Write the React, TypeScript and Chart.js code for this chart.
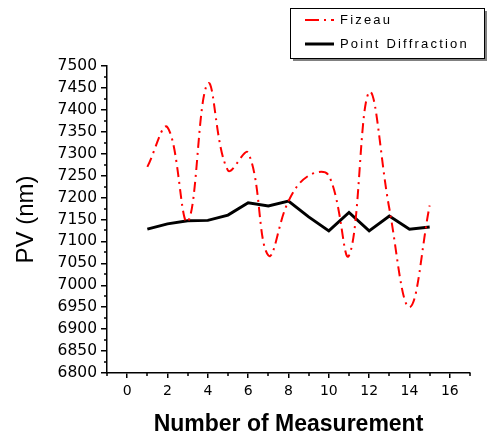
import React, { useEffect, useRef } from 'react';
import { Chart, registerables } from 'chart.js';

Chart.register(...registerables);

const measurements = [1, 2, 3, 4, 5, 6, 7, 8, 9, 10, 11, 12, 13, 14, 15];
const fizeau = [7270, 7360, 7145, 7460, 7262, 7302, 7068, 7192, 7250, 7250, 7068, 7440, 7175, 6950, 7182];
const pointDiffraction = [7128, 7140, 7147, 7148, 7160, 7188, 7181, 7192, 7156, 7124, 7166, 7124, 7158, 7128, 7133];
const xTickLabels = [0, 2, 4, 6, 8, 10, 12, 14, 16];
const yTickLabels = [6800, 6850, 6900, 6950, 7000, 7050, 7100, 7150, 7200, 7250, 7300, 7350, 7400, 7450, 7500];
const seriesNames = ['Fizeau', 'Point Diffraction'];
const xTitle = 'Number of Measurement';
const yTitle = 'PV (nm)';

const FONT = '"Liberation Sans", Arial, sans-serif';
const TICK_FONT = '"DejaVu Sans", sans-serif';

const minorTickPlugin = {
  id: 'minorTicks',
  afterDraw(chart: any) {
    const ctx = chart.ctx as CanvasRenderingContext2D;
    const xs = chart.scales.x;
    const ys = chart.scales.y;
    const area = chart.chartArea;
    ctx.save();
    ctx.strokeStyle = '#000';
    ctx.lineWidth = 1.5;
    ctx.beginPath();
    xs.ticks.forEach((t: any) => {
      if (!xTickLabels.includes(t.value)) {
        const px = Math.round(xs.getPixelForValue(t.value));
        ctx.moveTo(px, area.bottom);
        ctx.lineTo(px, area.bottom + 3);
      }
    });
    ys.ticks.forEach((t: any) => {
      if (!yTickLabels.includes(t.value)) {
        const py = Math.round(ys.getPixelForValue(t.value));
        ctx.moveTo(area.left, py);
        ctx.lineTo(area.left - 3, py);
      }
    });
    ctx.stroke();
    ctx.restore();
  },
};

const legendPlugin = {
  id: 'boxLegend',
  afterDraw(chart: any) {
    const ctx = chart.ctx as CanvasRenderingContext2D;
    ctx.save();
    const x0 = 290, y0 = 8, w = 194, h = 50;
    ctx.fillStyle = '#808080';
    ctx.fillRect(x0 + 3, y0 + 3, w, h);
    ctx.fillStyle = '#ffffff';
    ctx.fillRect(x0, y0, w, h);
    ctx.strokeStyle = '#000';
    ctx.lineWidth = 1;
    ctx.strokeRect(x0 + 0.5, y0 + 0.5, w, h);

    const rows = [
      { y: 20, color: '#ff0000', width: 2, dash: [14, 5, 2, 5] },
      { y: 44, color: '#000000', width: 3, dash: [] as number[] },
    ];
    rows.forEach((r, i) => {
      ctx.beginPath();
      ctx.setLineDash(r.dash);
      ctx.strokeStyle = r.color;
      ctx.lineWidth = r.width;
      ctx.moveTo(305, r.y);
      ctx.lineTo(334, r.y);
      ctx.stroke();
      ctx.setLineDash([]);
      ctx.fillStyle = '#000';
      ctx.font = `13px ${FONT}`;
      (ctx as any).letterSpacing = '2.2px';
      ctx.textBaseline = 'middle';
      ctx.textAlign = 'left';
      ctx.fillText(seriesNames[i], 340, r.y);
    });
    ctx.restore();
  },
};

export default function App() {
  const ref = useRef<HTMLCanvasElement>(null);
  useEffect(() => {
    if (!ref.current) return;
    const chart = new Chart(ref.current, {
      type: 'line',
      data: {
        datasets: [
          {
            label: seriesNames[0],
            data: measurements.map((x, i) => ({ x, y: fizeau[i] })),
            borderColor: '#ff0000',
            borderWidth: 2,
            borderDash: [10, 5, 2, 5],
            tension: 0.4,
            pointRadius: 0,
            fill: false,
          },
          {
            label: seriesNames[1],
            data: measurements.map((x, i) => ({ x, y: pointDiffraction[i] })),
            borderColor: '#000000',
            borderWidth: 3,
            tension: 0,
            pointRadius: 0,
            fill: false,
          },
        ],
      },
      options: {
        animation: false,
        responsive: true,
        maintainAspectRatio: false,
        layout: { padding: { top: 66, right: 19, left: 0, bottom: 0 } },
        plugins: { legend: { display: false }, tooltip: { enabled: false } },
        scales: {
          x: {
            type: 'linear',
            min: -1,
            max: 17,
            afterFit: (s: any) => { s.height = 64; },
            ticks: {
              stepSize: 1,
              autoSkip: false,
              maxRotation: 0,
              color: '#000',
              padding: 5,
              font: { family: TICK_FONT, size: 14 },
              callback: (v: any) => (xTickLabels.includes(v) ? String(v) : ''),
            },
            grid: {
              drawOnChartArea: false,
              drawTicks: true,
              tickLength: 5,
              color: '#000',
              lineWidth: 1.5,
              tickColor: (c: any) => (c.tick && xTickLabels.includes(c.tick.value) ? '#000' : 'rgba(0,0,0,0)'),
            },
            border: { color: '#000', width: 1.5 },
            title: {
              display: true,
              text: xTitle,
              color: '#000',
              font: { family: FONT, size: 23, weight: 'bold', lineHeight: 1 },
              padding: { top: 0, bottom: 1 },
            },
          },
          y: {
            min: 6800,
            max: 7500,
            afterFit: (s: any) => { s.width = 107; },
            ticks: {
              stepSize: 25,
              autoSkip: false,
              color: '#000',
              padding: 4,
              font: { family: TICK_FONT, size: 15.5 },
              callback: (v: any) => (yTickLabels.includes(v) ? String(v) : ''),
            },
            grid: {
              drawOnChartArea: false,
              drawTicks: true,
              tickLength: 6,
              color: '#000',
              lineWidth: 1.5,
              tickColor: (c: any) => (c.tick && yTickLabels.includes(c.tick.value) ? '#000' : 'rgba(0,0,0,0)'),
            },
            border: { color: '#000', width: 1.5 },
            title: {
              display: true,
              text: yTitle,
              color: '#000',
              font: { family: FONT, size: 24, weight: 'normal', lineHeight: 1 },
              padding: { top: 14, bottom: 0 },
            },
          },
        },
      },
      plugins: [legendPlugin, minorTickPlugin],
    });
    return () => chart.destroy();
  }, []);
  return (
    <div style={{ position: 'fixed', left: 0, top: 0, width: 489, height: 437, background: '#fff' }}>
      <canvas ref={ref} />
    </div>
  );
}
